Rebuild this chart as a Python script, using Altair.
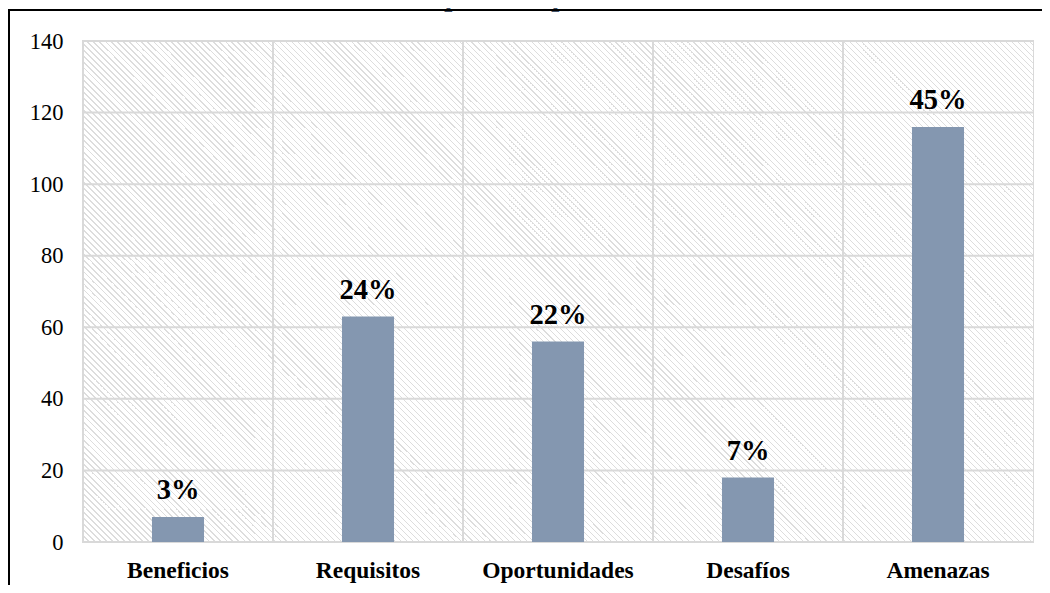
import altair as alt
import pandas as pd

categories = ["Beneficios", "Requisitos", "Oportunidades", "Desafíos", "Amenazas"]
values = [7, 63, 56, 18, 116]
pct_labels = ["3%", "24%", "22%", "7%", "45%"]
y_ticks = [0, 20, 40, 60, 80, 100, 120, 140]
title_text = "las políticas públicas."

W, H = 950, 501
FONT = "Liberation Serif"
GRID = "#d9d9d9"

df = pd.DataFrame({"cat": categories, "val": values, "pct": pct_labels})
grid_df = pd.DataFrame({"t": y_ticks})

# diagonal hatch background built as a striped linear gradient
# (horizontal spacing of exactly 6 px so the stripes stay aligned with pixels)
period = 6 / 2 ** 0.5
line_w = 1.1
L = (W + H) / 2 ** 0.5
white, gray = "#ffffff", "#dddddd"
stops = []
i = 0
while True:
    a = i * period / L
    if a >= 1:
        break
    b = min((i * period + line_w) / L, 1.0)
    stops += [
        alt.GradientStop(offset=a, color=white),
        alt.GradientStop(offset=a, color=gray),
        alt.GradientStop(offset=b, color=gray),
        alt.GradientStop(offset=b, color=white),
    ]
    i += 1
r = H / W
k = (1 + r) / (1 + r * r)
hatch_grad = alt.LinearGradient(
    gradient="linear", stops=stops, x1=0, y1=1, x2=k, y2=1 - k * r
)

x_axis = alt.Axis(
    title=None, labelAngle=0, labelFont=FONT, labelFontSize=23.5,
    labelFontWeight="bold", labelColor="black", labelPadding=16,
    ticks=False, domain=False, grid=False,
)
x_scale = alt.Scale(paddingInner=0, paddingOuter=0)
x_enc = alt.X("cat:N", sort=categories, scale=x_scale, axis=x_axis)
x_edge = alt.X("cat:N", sort=categories, scale=x_scale, axis=x_axis, bandPosition=0)

y_scale = alt.Scale(domain=[0, 140], nice=False)
y_axis = alt.Axis(
    title=None, values=y_ticks, grid=False, ticks=False, domain=False,
    labelFont=FONT, labelFontSize=22.5, labelColor="black", labelPadding=20,
)
y_enc = alt.Y("val:Q", scale=y_scale, axis=y_axis)

one = alt.Data(values=[{}])

hatch = alt.Chart(one).mark_rect(color=hatch_grad, strokeWidth=0).encode(
    x=alt.value(0), x2=alt.value("width"), y=alt.value(0), y2=alt.value("height")
)

vrules = alt.Chart(df).mark_rule(color=GRID, strokeWidth=2).encode(x=x_edge)
hrules = alt.Chart(grid_df).mark_rule(color=GRID, strokeWidth=2).encode(
    y=alt.Y("t:Q", scale=y_scale, axis=y_axis)
)

bars = alt.Chart(df).mark_bar(
    color="#8497B0", width=alt.RelativeBandSize(0.274)
).encode(x=x_enc, y=y_enc)

labels = alt.Chart(df).mark_text(
    dy=-18, baseline="alphabetic", align="center", font=FONT,
    fontSize=28.5, fontWeight="bold", color="black",
).encode(x=x_enc, y=y_enc, text="pct:N")

title = alt.Chart(one).mark_text(
    text=title_text, font=FONT, fontSize=29, fontStyle="italic",
    fontWeight="bold", color="#44546A", baseline="alphabetic", align="center",
).encode(x=alt.value(450), y=alt.value(-35))

frame = alt.Chart(one).mark_rect(
    fillOpacity=0, stroke="black", strokeWidth=2
).encode(
    x=alt.value(-74), x2=alt.value(W + 200), y=alt.value(-31), y2=alt.value(H + 200)
)

chart = alt.layer(hatch, vrules, hrules, bars, labels, title, frame).properties(
    width=W, height=H,
    autosize=alt.AutoSizeParams(type="none"),
    padding={"left": 75, "top": 33, "right": 9, "bottom": 43},
).configure_view(stroke=GRID, strokeWidth=2)

chart.save("out.html", embed_options={"renderer": "svg", "actions": False})
